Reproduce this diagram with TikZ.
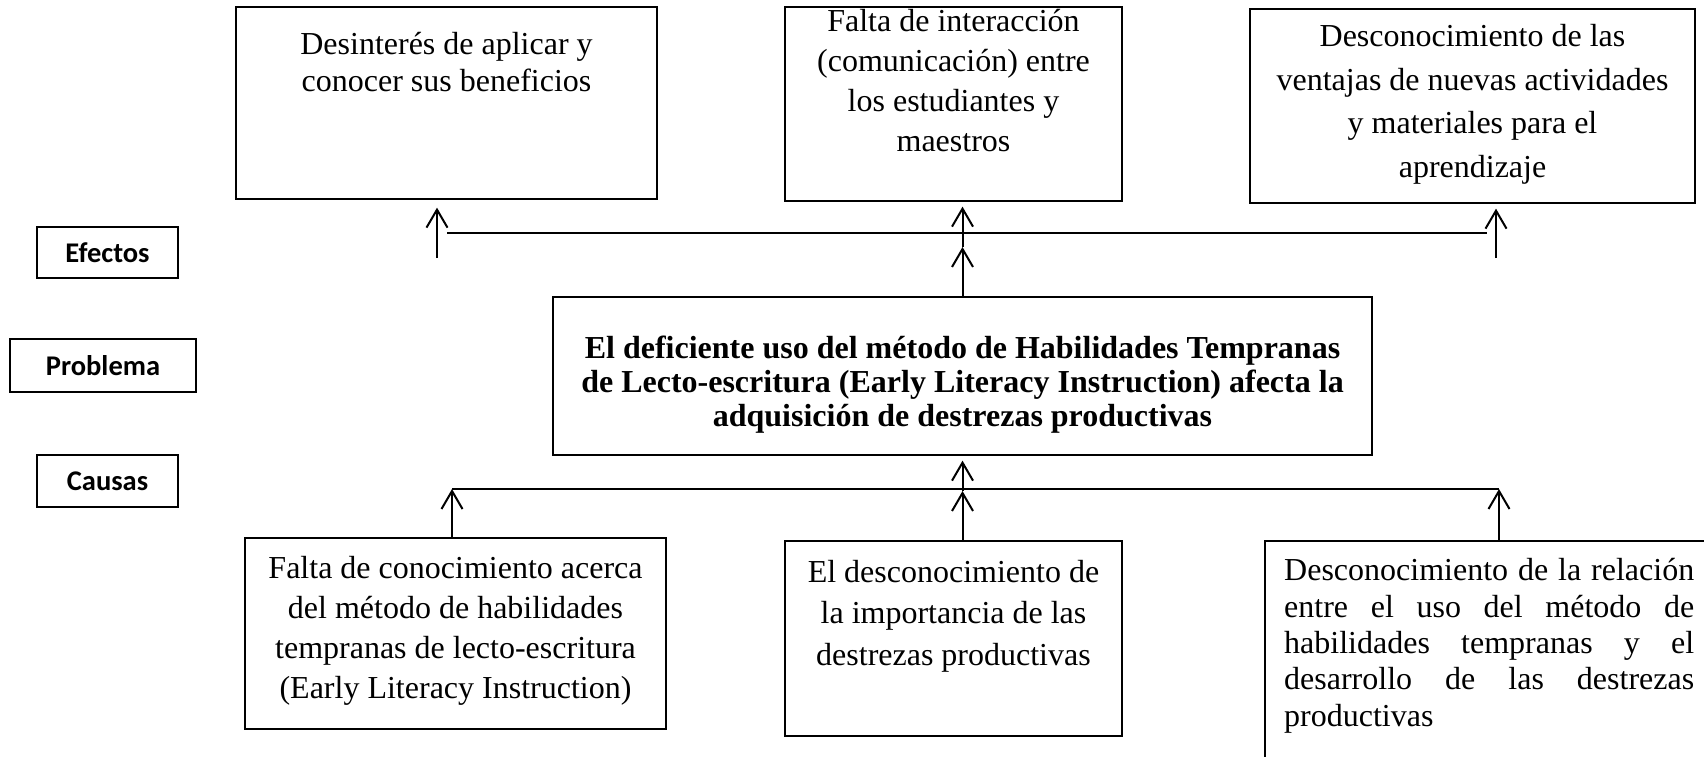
\documentclass[tikz,border=0pt]{standalone}
\usepackage{fontspec}
\setmainfont{Liberation Serif}
\newfontfamily\calib{Carlito}
\usetikzlibrary{arrows.meta}
\newcommand{\sr}{\rule[-0.25em]{0pt}{1em}}
\begin{document}
\begin{tikzpicture}[x=1pt,y=-1pt,
  frame/.style={draw, line width=1.3pt, inner sep=0pt},
  txt/.style={inner sep=0pt, align=center},
  lab/.style={frame, font=\calib\bfseries\fontsize{28.5}{30}\selectfont},
  arr/.style={line width=2pt, -{Straight Barb[length=18pt,width=21pt]}},
  hline/.style={line width=1.3pt}]
\useasboundingbox (0,0) rectangle (1704,756);
\clip (0,0) rectangle (1704,756);

% effect boxes
\node[frame, minimum width=421pt, minimum height=192pt] (e1) at (446.5,103) {};
\node[frame, minimum width=337pt, minimum height=194pt] (e2) at (953.5,104) {};
\node[frame, minimum width=445pt, minimum height=194pt] (e3) at (1472.5,106) {};
\node[txt, font=\fontsize{32}{37}\selectfont] (t1) at (446.5,64.5)
  {\sr Desinterés de aplicar y\\conocer sus beneficios\sr};
\node[txt, font=\fontsize{32}{40}\selectfont] (t2) at (953.5,83)
  {\sr Falta de interacción\\(comunicación) entre\\los estudiantes y\\maestros\sr};
\node[txt, font=\fontsize{32}{43.5}\selectfont] (t3) at (1472.5,104)
  {\sr Desconocimiento de las\\ventajas de nuevas actividades\\y materiales para el\\aprendizaje\sr};

% side labels
\node[lab, minimum width=141pt, minimum height=51pt] (l1) at (107.5,252.5) {Efectos};
\node[lab, minimum width=186pt, minimum height=53pt] (l2) at (103,365.5) {Problema};
\node[lab, minimum width=141pt, minimum height=52pt] (l3) at (107.5,481) {Causas};

% problem box
\node[frame, minimum width=819pt, minimum height=158pt] (prob) at (962.5,376) {};
\node[txt, font=\bfseries\fontsize{32}{34}\selectfont] (tp) at (962.5,384)
  {\sr El deficiente uso del método de Habilidades Tempranas\\de Lecto-escritura (Early Literacy Instruction) afecta la\\adquisición de destrezas productivas\sr};

% cause boxes
\node[frame, minimum width=421pt, minimum height=191pt] (c1) at (455.5,633.5) {};
\node[frame, minimum width=337pt, minimum height=195pt] (c2) at (953.5,638.5) {};
\node[frame, minimum width=465pt, minimum height=249pt] (c3) at (1497.5,665.5) {};
\node[txt, font=\fontsize{32}{40}\selectfont] (tc1) at (455.5,630)
  {\sr Falta de conocimiento acerca\\del método de habilidades\\tempranas de lecto-escritura\\(Early Literacy Instruction)\sr};
\node[txt, font=\fontsize{32}{41.5}\selectfont] (tc2) at (953.5,615.5)
  {\sr El desconocimiento de\\la importancia de las\\destrezas productivas\sr};
\node[txt, align=left, anchor=west, font=\fontsize{32}{36.3}\selectfont] (tc3) at (1284,645.5)
  {\sr\makebox[410pt][s]{Desconocimiento de la relación}\\
   \makebox[410pt][s]{entre el uso del método de}\\
   \makebox[410pt][s]{habilidades tempranas y el}\\
   \makebox[410pt][s]{desarrollo de las destrezas}\\
   productivas\sr};

% effect connectors
\coordinate (a1) at (437,258);
\coordinate (a3) at (1496,258);
\coordinate (tl) at (447,233);
\coordinate (tr) at (1487,233);
\coordinate (m1) at (962.5,247);
\draw[hline] (tl) -- (tr);
\draw[arr, shorten >=8pt] (a1) -- (a1 |- e1.south);
\draw[arr, shorten >=5pt] (a3) -- (a3 |- e3.south);
\draw[arr] (prob.north) -- (m1);
\draw[arr, shorten >=5pt] (m1) -- (m1 |- e2.south);

% cause connectors
\coordinate (hl) at (452,489);
\coordinate (hr) at (1499,489);
\coordinate (m2) at (962.5,491);
\draw[hline] (hl) -- (hr);
\draw[arr] (c1.north -| hl) -- (hl);
\draw[arr] (c3.north -| hr) -- (hr);
\draw[arr] (c2.north -| prob.south) -- (m2);
\draw[arr, shorten >=5pt] (m2) -- (prob.south);
\end{tikzpicture}
\end{document}
